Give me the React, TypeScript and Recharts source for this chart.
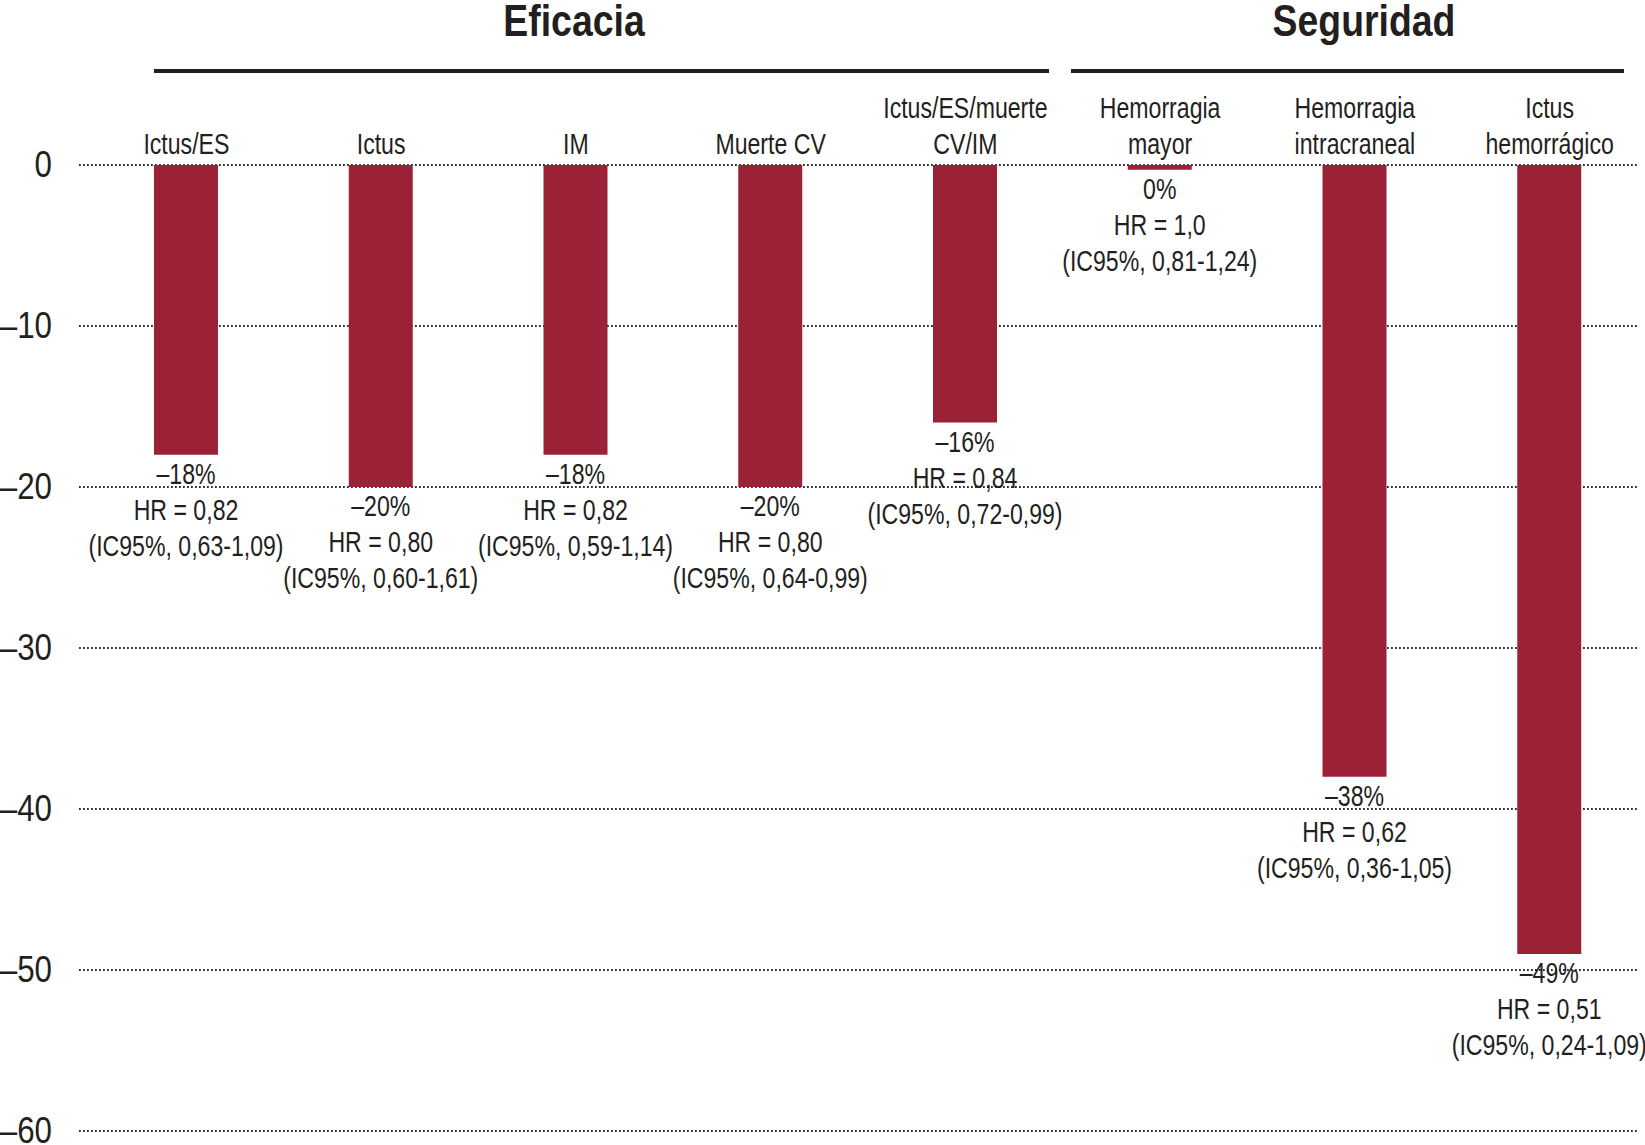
import React from 'react';
import { BarChart, Bar, XAxis, YAxis, CartesianGrid, LabelList, Customized } from 'recharts';

// categories (\n = line break in the label)
const categories = [
  'Ictus/ES',
  'Ictus',
  'IM',
  'Muerte CV',
  'Ictus/ES/muerte\nCV/IM',
  'Hemorragia\nmayor',
  'Hemorragia\nintracraneal',
  'Ictus\nhemorrágico',
];

// relative change (%) - "Hemorragia mayor" is 0% but drawn as a thin sliver
const changes = [-18, -20, -18, -20, -16, -0.3, -38, -49];

const pctLabels = ['–18%', '–20%', '–18%', '–20%', '–16%', '0%', '–38%', '–49%'];
const hrLabels = ['HR = 0,82', 'HR = 0,80', 'HR = 0,82', 'HR = 0,80', 'HR = 0,84', 'HR = 1,0', 'HR = 0,62', 'HR = 0,51'];
const ciLabels = [
  '(IC95%, 0,63-1,09)',
  '(IC95%, 0,60-1,61)',
  '(IC95%, 0,59-1,14)',
  '(IC95%, 0,64-0,99)',
  '(IC95%, 0,72-0,99)',
  '(IC95%, 0,81-1,24)',
  '(IC95%, 0,36-1,05)',
  '(IC95%, 0,24-1,09)',
];

const yTicks = [0, -10, -20, -30, -40, -50, -60];

const groupTitles = ['Eficacia', 'Seguridad'];

// the original uses a condensed grotesque; Liberation Sans squeezed horizontally stands in for it
const FONT = '"Liberation Sans", Arial, sans-serif';
const TEXT = '#231f20';
const BAR = '#9b2236';
const SQUEEZE = 0.77;

const data = categories.map((name, i) => ({ name, value: changes[i] }));

// text drawn narrower than the font, anchored at (x, y)
const NarrowText = ({ x, y, size, sx, anchor = 'middle', bold = false, dy, children }: any) => (
  <text
    transform={`translate(${x} ${y}) scale(${sx} 1)`}
    textAnchor={anchor}
    dy={dy}
    fontSize={size}
    fontWeight={bold ? 'bold' : 'normal'}
    fontFamily={FONT}
    fill={TEXT}
  >
    {children}
  </text>
);

const CategoryTick = (props: any) => {
  const { x, y, payload } = props;
  const lines = String(payload.value).split('\n');
  return (
    <g>
      {lines.map((line, i) => (
        <NarrowText key={i} x={x} y={y - (lines.length - 1 - i) * 36} size={30} sx={SQUEEZE}>
          {line}
        </NarrowText>
      ))}
    </g>
  );
};

const ValueTick = (props: any) => {
  const { x, y, payload } = props;
  const v = Number(payload.value);
  return (
    <NarrowText x={x} y={y} size={36} sx={0.87} anchor="end" dy="0.34em">
      {v < 0 ? `–${-v}` : `${v}`}
    </NarrowText>
  );
};

const ValueLabel = (props: any) => {
  const { x, y, width, height, index } = props;
  const bottom = Math.max(Number(y), Number(y) + Number(height));
  const cx = Number(x) + Number(width) / 2;
  const lines = [pctLabels[index], hrLabels[index], ciLabels[index]];
  return (
    <g>
      {lines.map((line, i) => (
        <NarrowText key={i} x={cx} y={bottom + 29 + i * 36} size={30} sx={SQUEEZE}>
          {line}
        </NarrowText>
      ))}
    </g>
  );
};

const Header = () => (
  <g>
    <NarrowText x={574} y={36} size={44} sx={0.85} bold>
      {groupTitles[0]}
    </NarrowText>
    <NarrowText x={1364} y={36} size={44} sx={0.85} bold>
      {groupTitles[1]}
    </NarrowText>
    <line x1={154} x2={1049} y1={71} y2={71} stroke={TEXT} strokeWidth={4} />
    <line x1={1071} x2={1624} y1={71} y2={71} stroke={TEXT} strokeWidth={4} />
  </g>
);

export default function App() {
  return (
    <div style={{ position: 'absolute', left: 0, top: 0, background: '#fff' }}>
      <BarChart
        width={1645}
        height={1145}
        data={data}
        margin={{ top: 0, right: 8, bottom: 14, left: 0 }}
      >
        <CartesianGrid
          vertical={false}
          stroke="#2e2e2e"
          strokeWidth={1.8}
          strokeDasharray="1.8 2.2"
        />
        <XAxis
          dataKey="name"
          orientation="top"
          height={165}
          axisLine={false}
          tickLine={false}
          tickSize={0}
          tickMargin={11}
          interval={0}
          padding={{ left: 10, right: -10 }}
          tick={<CategoryTick />}
        />
        <YAxis
          type="number"
          domain={[-60, 0]}
          ticks={yTicks}
          width={79}
          axisLine={false}
          tickLine={false}
          tickSize={0}
          tickMargin={27}
          tick={<ValueTick />}
        />
        <Bar dataKey="value" fill={BAR} barSize={64} isAnimationActive={false}>
          <LabelList dataKey="value" content={<ValueLabel />} />
        </Bar>
        <Customized component={<Header />} />
      </BarChart>
    </div>
  );
}
